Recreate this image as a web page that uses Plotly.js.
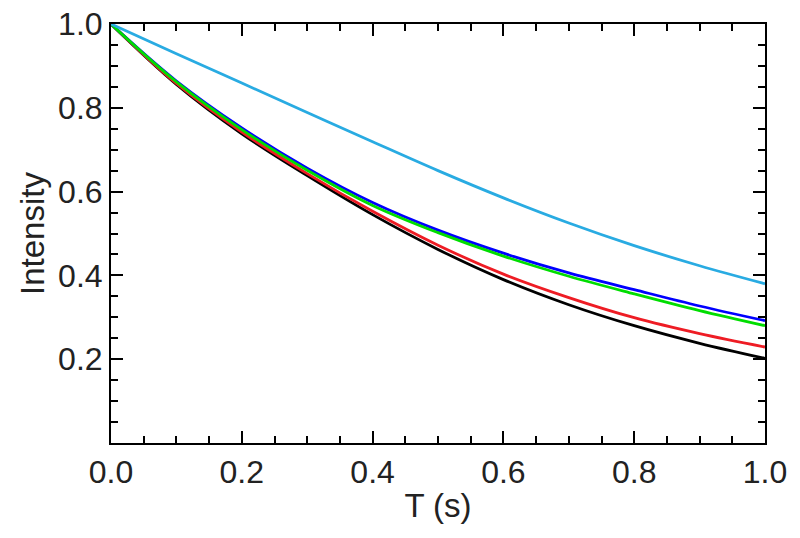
<!DOCTYPE html>
<html>
<head>
<meta charset="utf-8">
<script src="https://cdn.plot.ly/plotly-3.0.1.min.js"></script>
<style>
  html, body { margin: 0; padding: 0; background: #fff; }
  #chart { width: 800px; height: 538px; }
</style>
</head>
<body>
<div id="chart"></div>
<script>
// Time points (s)
const timeS = [0, 0.1, 0.2, 0.3, 0.4, 0.5, 0.6, 0.7, 0.8, 0.9, 1.0];

// Intensity values
const blackVals     = [1.0, 0.856, 0.738, 0.638, 0.545, 0.462, 0.390, 0.330, 0.280, 0.238, 0.202];
const redVals       = [1.0, 0.858, 0.742, 0.643, 0.553, 0.472, 0.403, 0.347, 0.299, 0.261, 0.229];
const blueVals      = [1.0, 0.864, 0.752, 0.656, 0.574, 0.508, 0.453, 0.406, 0.366, 0.327, 0.292];
const greenVals     = [1.0, 0.862, 0.748, 0.651, 0.567, 0.502, 0.446, 0.398, 0.356, 0.316, 0.280];
const lightBlueVals = [1.0, 0.929, 0.859, 0.789, 0.719, 0.650, 0.585, 0.525, 0.471, 0.423, 0.380];

const yTicks = [0.2, 0.4, 0.6, 0.8, 1.0];
const xTicks = [0, 0.2, 0.4, 0.6, 0.8, 1.0];

function curve(y, color) {
    return {
        type: 'scatter',
        mode: 'lines',
        x: timeS,
        y: y,
        line: { color: color, width: 2.8, shape: 'spline', smoothing: 1 },
        hoverinfo: 'x+y'
    };
}

const traces = [
    curve(blackVals, '#000000'),
    curve(redVals, '#ee1c24'),
    curve(blueVals, '#0000ff'),
    curve(greenVals, '#00dd00'),
    curve(lightBlueVals, '#29abe2')
];

const tickFont = { family: 'Liberation Sans, Arial, sans-serif', size: 32, color: '#222' };
const titleFont = { family: 'Liberation Sans, Arial, sans-serif', size: 33, color: '#222' };

const layout = {
    width: 800,
    height: 538,
    margin: { l: 111, r: 35, t: 24, b: 95 },
    paper_bgcolor: '#fff',
    plot_bgcolor: '#fff',
    showlegend: false,
    font: tickFont,
    xaxis: {
        range: [0, 1],
        tickvals: xTicks,
        ticktext: xTicks.map(v => v.toFixed(1)),
        ticks: 'inside',
        ticklen: 12,
        tickwidth: 2,
        tickcolor: '#000',
        minor: { dtick: 0.05, ticks: 'inside', ticklen: 7, tickwidth: 2, tickcolor: '#000', showgrid: false },
        showline: true,
        linecolor: '#000',
        linewidth: 2,
        mirror: 'allticks',
        showgrid: false,
        zeroline: false,
        tickfont: tickFont,
        title: { text: 'T (s)', font: titleFont, standoff: 4 }
    },
    yaxis: {
        range: [0, 1],
        tickvals: yTicks,
        ticktext: yTicks.map(v => v.toFixed(1)),
        ticks: 'inside',
        ticklen: 12,
        tickwidth: 2,
        tickcolor: '#000',
        minor: { dtick: 0.05, ticks: 'inside', ticklen: 7, tickwidth: 2, tickcolor: '#000', showgrid: false },
        showline: true,
        linecolor: '#000',
        linewidth: 2,
        mirror: 'allticks',
        showgrid: false,
        zeroline: false,
        tickfont: tickFont,
        title: { text: 'Intensity', font: titleFont, standoff: 4 }
    }
};

Plotly.newPlot('chart', traces, layout, { displayModeBar: false, staticPlot: true });
</script>
</body>
</html>
